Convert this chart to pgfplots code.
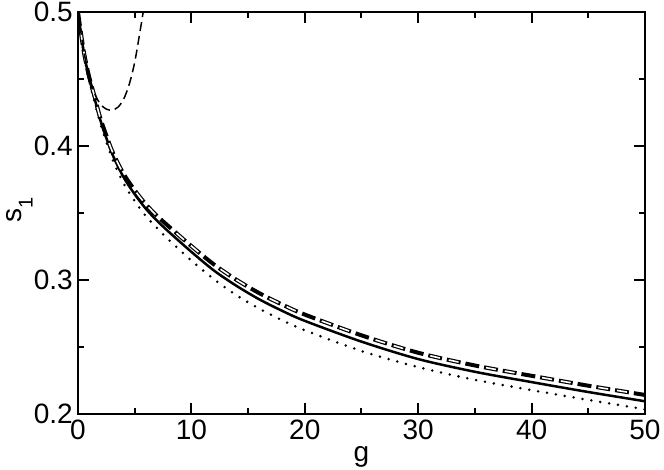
\documentclass[border=0pt]{standalone}
\usepackage{fontspec}
\setmainfont{Liberation Sans}
\usepackage{pgfplots}
\pgfplotsset{compat=1.18}
\begin{document}
\begin{tikzpicture}
\begin{axis}[
  scale only axis,
  width=567pt, height=402pt,
  xmin=0, xmax=50, ymin=0.2, ymax=0.5,
  xtick={0,10,20,30,40,50},
  ytick={0.2,0.3,0.4,0.5},
  minor xtick={5,15,25,35,45},
  minor ytick={0.25,0.35,0.45},
  tick align=inside,
  major tick length=11pt,
  minor tick length=6pt,
  every tick/.style={black, line width=2pt},
  axis line style={line width=2pt},
  /pgf/number format/assume math mode=true,
  ticklabel style={font=\fontsize{28}{28}\selectfont, inner sep=0pt},
  yticklabel style={/pgf/number format/.cd, fixed, fixed zerofill, precision=1, /tikz/.cd, anchor=east, xshift=-5pt},
  xticklabel style={anchor=base, yshift=-25.5pt},
  xlabel={g},
  ylabel={s\raisebox{-11pt}{\fontsize{20}{20}\selectfont 1}},
  label style={font=\fontsize{28}{28}\selectfont, inner sep=0pt},
  xlabel style={at={(axis description cs:0.5,0)}, anchor=base, yshift=-48pt},
  ylabel style={at={(axis description cs:-0.0995,0.507)}, anchor=base},
]
% solid
\addplot[black, line width=2.5pt, smooth] coordinates {
(0,0.500) (0.5,0.4705) (1,0.4500) (1.5,0.4343) (2,0.4185) (3,0.3945) (4,0.3770)
(5,0.3640) (6,0.3530) (7,0.3440) (8,0.3360) (10,0.3210) (12,0.3070) (14,0.2955)
(16,0.2855) (18,0.2770) (20,0.2695) (25,0.2540) (30,0.2410) (35,0.2315)
(40,0.2238) (45,0.2164) (50,0.2095)};
% dotted
\addplot[black, line width=2.8pt, line cap=round, dash pattern=on 0pt off 9pt, smooth] coordinates {
(0,0.500) (0.5,0.4695) (1,0.4485) (1.5,0.4320) (2,0.4160) (3,0.3910) (4,0.3725)
(5,0.3590) (6,0.3475) (7,0.3385) (8,0.3300) (10,0.3145) (12,0.3005) (14,0.2885)
(16,0.2785) (18,0.2700) (20,0.2625) (25,0.2470) (30,0.2350) (35,0.2255)
(40,0.2178) (45,0.2105) (50,0.2035)};
% thick dashed
\pgfplotstableread{
g s
0 0.500
0.5 0.4710
1 0.4510
1.5 0.4358
2 0.4200
3 0.3965
4 0.3795
5 0.3670
6 0.3563
7 0.3476
8 0.3400
10 0.3253
12 0.3115
14 0.3000
16 0.2901
18 0.2817
20 0.2742
25 0.2587
30 0.2457
35 0.2362
40 0.2285
45 0.2211
50 0.2142
}\dashedtable
\addplot[black, line width=4pt, dash pattern=on 14pt off 5pt, smooth] table[x=g, y=s] {\dashedtable};
\addplot[white, line width=1.6pt, dash pattern=on 10pt off 9pt on 10pt off 28pt, dash phase=36pt, smooth] table[x=g, y=s] {\dashedtable};
% perturbative curve near origin
\addplot[black, line width=1.5pt, dash pattern=on 9pt off 5pt, smooth] coordinates {
(0,0.500) (0.5,0.4712) (1.0,0.4520) (1.5,0.4385) (2.0,0.4310) (2.5,0.4275)
(3.0,0.4268) (3.5,0.4288) (4.0,0.4345) (4.5,0.4455) (5.0,0.4625) (5.5,0.4870) (5.75,0.5)};
\end{axis}
\pgfresetboundingbox
\path (current axis.south west) ++(-78pt,-56pt) rectangle ++(664pt,470pt);
\end{tikzpicture}
\end{document}
